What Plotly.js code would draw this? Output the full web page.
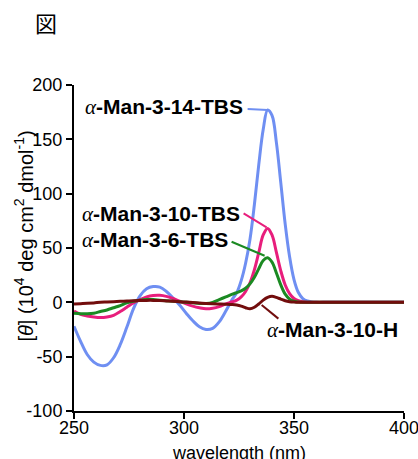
<!DOCTYPE html>
<html><head><meta charset="utf-8">
<script src="https://cdn.plot.ly/plotly-3.0.1.min.js"></script>
<style>html,body{margin:0;padding:0;background:#fff;}#chart{width:418px;height:459px;}</style>
</head><body><div id="chart"></div>
<script>
// wavelength grid (nm)
const wavelength = [250,253,256,259,262,265,268,271,274,277,280,283,286,289,292,295,298,301,304,307,310,313,316,319,322,
  324,326,328,330,332,334,336,338,340,342,344,346,348,350,352,354,356,358,360,365,370,380,390,400];
// molar ellipticity [θ] (10^4 deg cm^2 dmol^-1)
const man3_14_TBS = [-22,-36,-48,-55,-58,-57.5,-51,-39,-23,-6,6,12.5,14.5,14,10,4,-2.5,-10,-17,-22.5,-25,-24,-18,-8,3,
  9,20,36,58,90,127,159,177,172,147,110,72,42,21,9,3.5,1.2,0.4,0,0,0,0,0,0];
const man3_10_TBS = [-8,-11,-12.5,-13.5,-14,-13.5,-12,-8.5,-4.5,-0.5,2.5,5,6.3,6.5,5.5,3.5,1,-1.5,-3.5,-5,-6,-5.5,-4,-1.5,0.5,
  2,5,10,18,30,46,62,68,62,46,29,16,8,3.5,1.5,0.5,0,0,0,0,0,0,0,0];
const man3_6_TBS = [-10,-10.5,-10.5,-10,-8.5,-7,-5,-3,-0.5,1,2,2.5,2.5,2,1.5,1,0.5,0,-0.5,-1,-1,0,2.5,5,7.5,
  9,10.5,13,17,23,31,38.5,41,37,27,16,7.5,3,1,0.3,0,0,0,0,0,0,0,0,0];
const man3_10_H = [-1.5,-1.2,-0.9,-0.5,0,0.3,0.6,0.9,1.2,1.5,1.7,1.8,1.8,1.6,1.3,1,0.6,0.2,-0.2,-0.6,-1,-1.3,-1.5,-1.7,-2,
  -2.5,-3.5,-5,-6,-4.5,-1.5,2,4.5,5.5,4.5,3,1.5,0.6,0.2,0,0,0,0,0,0,0,0,0,0];
const seriesNames = ['α-Man-3-14-TBS','α-Man-3-10-TBS','α-Man-3-6-TBS','α-Man-3-10-H'];
const seriesColors = ['#6f8ff2','#e81e7c','#1b8a22','#720d0d'];
const xTicks = [250,300,350,400];
const yTicks = [-100,-50,0,50,100,150,200];

const seriesValues = [man3_14_TBS, man3_10_TBS, man3_6_TBS, man3_10_H];
const traces = seriesValues.map((ys, i) => ({
  x: wavelength, y: ys, type: 'scatter', mode: 'lines', name: seriesNames[i],
  line: {color: seriesColors[i], width: 3, shape: 'spline', smoothing: 1},
  hoverinfo: 'skip'
}));

function peakOf(ys) { let k = 0; ys.forEach((v, j) => { if (v > ys[k]) k = j; }); return {x: wavelength[k], y: ys[k]}; }

function label(name) {
  const rest = name.slice(1);
  return '<span style="font-family:\'Liberation Serif\',serif;font-weight:normal;font-style:italic">α</span>' + rest;
}
const labFont = {family: 'Liberation Sans, Arial, sans-serif', size: 21, color: '#000', weight: 'bold'};

const pB = peakOf(man3_14_TBS), pP = peakOf(man3_10_TBS), pG = peakOf(man3_6_TBS);
function connector(p, color, x0, y0, x1, y1) {
  return {type: 'line', xref: 'x', yref: 'y', xsizemode: 'pixel', ysizemode: 'pixel',
    xanchor: p.x, yanchor: p.y, x0: x0, y0: y0, x1: x1, y1: y1, line: {color: color, width: 2}};
}

const axisCommon = {showgrid: false, zeroline: false, showline: true, linecolor: '#000', linewidth: 2,
  ticks: 'outside', ticklen: 6, tickwidth: 2, tickcolor: '#000', tickfont: {size: 18}, ticklabeloverflow: 'allow'};

const layout = {
  width: 418, height: 459,
  margin: {l: 74, r: 14, t: 85, b: 48},
  paper_bgcolor: '#fff', plot_bgcolor: '#fff',
  showlegend: false,
  font: {family: 'Liberation Sans, Arial, sans-serif', color: '#000', size: 18},
  xaxis: Object.assign({range: [250, 400], tickvals: xTicks, ticktext: xTicks.map(String), ticklabelstandoff: -7}, axisCommon),
  yaxis: Object.assign({range: [-100, 200], tickvals: yTicks, ticktext: yTicks.map(String)}, axisCommon),
  shapes: [
    connector(pB, seriesColors[0], 0, 0, -20, 1),
    connector(pP, seriesColors[1], -1, 1, -24, 15),
    connector(pG, seriesColors[2], -3, 2, -36, 16),
    {type: 'line', xref: 'x', yref: 'y', x0: 335.3, y0: -2.5, x1: 342.9, y1: -15, line: {color: seriesColors[3], width: 2}}
  ],
  annotations: [
    {text: label(seriesNames[0]), xref: 'x', yref: 'y', x: 327.7, y: 180, xanchor: 'right', yanchor: 'middle', showarrow: false, font: labFont},
    {text: label(seriesNames[1]), xref: 'x', yref: 'y', x: 326.2, y: 81, xanchor: 'right', yanchor: 'middle', showarrow: false, font: labFont},
    {text: label(seriesNames[2]), xref: 'x', yref: 'y', x: 320.9, y: 57, xanchor: 'right', yanchor: 'middle', showarrow: false, font: labFont},
    {text: label(seriesNames[3]), xref: 'x', yref: 'y', x: 336.8, y: -25, xanchor: 'left', yanchor: 'middle', showarrow: false, font: labFont},
    {text: '[<i>θ</i>] (10<sup>4</sup> deg cm<sup>2</sup> dmol<sup>-1</sup>)', xref: 'paper', yref: 'paper',
      x: -0.1515, y: 0.535, textangle: -90, xanchor: 'center', yanchor: 'middle', showarrow: false, font: {size: 20}},
    {text: 'wavelength (nm)', xref: 'paper', yref: 'paper', x: 0.5, y: -0.128, xanchor: 'center', yanchor: 'middle', showarrow: false, font: {size: 18}},
    {text: '図', xref: 'paper', yref: 'paper', x: -0.0848, y: 1.193, xanchor: 'center', yanchor: 'middle', showarrow: false,
      font: {family: 'Noto Sans CJK JP', size: 22, color: '#000'}}
  ]
};
Plotly.newPlot('chart', traces, layout, {staticPlot: true, displayModeBar: false});
</script>
</body></html>
